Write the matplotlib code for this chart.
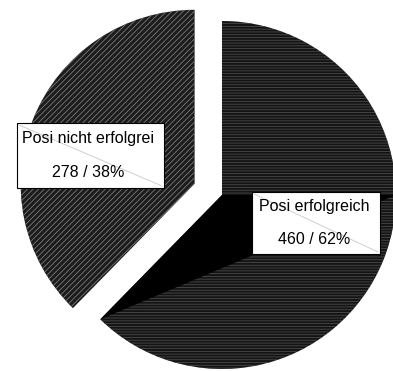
import numpy as np
import matplotlib
matplotlib.use("Agg")
import matplotlib.pyplot as plt
from matplotlib.patches import Polygon, Rectangle

# slice data
labels = ["Posi erfolgreich", "Posi nicht erfolgrei"]
counts = [460, 278]
explode = [0.0, 0.17]

plt.rcParams['font.family'] = ['Liberation Sans', 'DejaVu Sans']
plt.rcParams['hatch.linewidth'] = 0.6

W, H = 393, 371
fig = plt.figure(figsize=(W / 100, H / 100), dpi=100)

# pie axes: radius 1 = 174 px, centre at (222, 195) px from top-left
R_PX, CX, CY = 174, 222, 195
ax = fig.add_axes([0, 0, 1, 1])

wedges, _ = ax.pie(counts, explode=explode, startangle=90, counterclock=False,
                   colors=['#141414', '#1c1c1c'],
                   wedgeprops=dict(linewidth=0))
wedges[0].set_hatch('------')
wedges[0].set_edgecolor('#4a4a4a')
wedges[1].set_hatch('//////')
wedges[1].set_edgecolor('#7a7a7a')

# pie() resets the limits, so set them afterwards
ax.set_xlim(-CX / R_PX, (W - CX) / R_PX)
ax.set_ylim((CY - H) / R_PX, CY / R_PX)
ax.axis('off')

# solid black shading band inside the big slice (chord to the slice end)
big = wedges[0]
cx, cy = big.center
r = big.r
t_end = np.deg2rad(big.theta1)
tri = [(cx, cy), (cx + r, cy), (cx + r * np.cos(t_end), cy + r * np.sin(t_end))]
ax.add_patch(Polygon(tri, closed=True, facecolor='black', edgecolor='none', zorder=2))

# overlay axes in pixel coordinates for the label boxes
ov = fig.add_axes([0, 0, 1, 1])
ov.set_xlim(0, W)
ov.set_ylim(H, 0)
ov.axis('off')
ov.patch.set_alpha(0)

pct = [round(100 * c / sum(counts)) for c in counts]
boxes = [(252, 192, 380, 254), (17, 123, 164, 188)]
for (x0, y0, x1, y1), lab, c, p in zip(boxes, labels, counts, pct):
    ov.add_patch(Rectangle((x0, y0), x1 - x0, y1 - y0, facecolor='white',
                           edgecolor='black', linewidth=0.8, zorder=3))
    ov.plot([x0 + 2, x1 - 2], [y0 + 2, y1 - 2], color='#c8c8c8', linewidth=0.6, zorder=4)
    ov.text((x0 + x1) / 2 - 2, (y0 + y1) / 2, f"{lab}\n{c} / {p}%",
            ha='center', va='center', fontsize=11.5, linespacing=2.55, zorder=5)

fig.savefig("out.png", dpi=100)
